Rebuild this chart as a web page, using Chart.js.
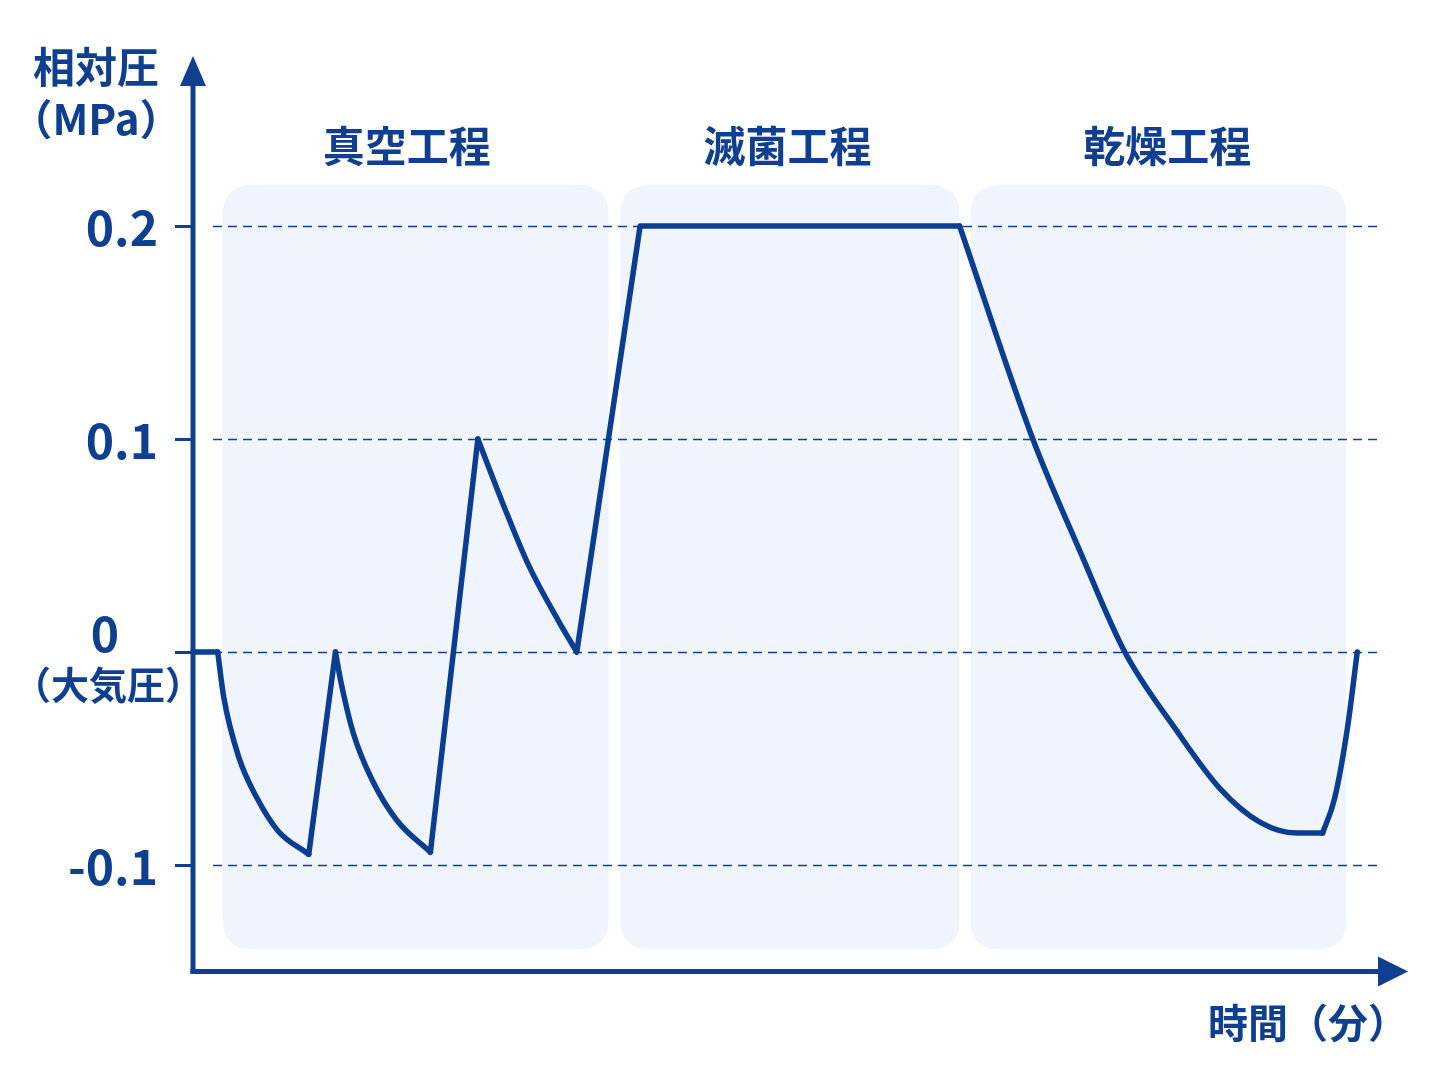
<!DOCTYPE html>
<html>
<head>
<meta charset="utf-8">
<script src="https://cdn.jsdelivr.net/npm/chart.js@4"></script>
<style>
  html, body { margin: 0; padding: 0; background: #fff; }
  #wrap { width: 1448px; height: 1086px; }
</style>
</head>
<body>
<div id="wrap"><canvas id="pressureChart" width="1448" height="1086"></canvas></div>
<script>
// time (min) and relative pressure (MPa)
const times = [0, 2.5, 3.1, 4.6, 6.4, 8.6, 11.7,
  14.4, 15.0, 16.2, 18.1, 20.6, 24.0,
  28.8, 31.3, 33.9, 36.9, 38.8,
  45.2, 77.5,
  84.9, 89.7, 94.2, 99.3, 103.8, 107.9, 111.6, 114.2,
  115.4, 116.7, 117.7];
const pressure = [0, 0, -0.021, -0.049, -0.068, -0.084, -0.095,
  0, -0.015, -0.038, -0.060, -0.079, -0.094,
  0.1, 0.070, 0.041, 0.015, 0,
  0.2, 0.2,
  0.1, 0.047, 0, -0.036, -0.064, -0.080, -0.085, -0.085,
  -0.069, -0.036, 0];

// pieces of the curve: [first index, last index, smooth?]
const pieces = [[0, 1, false], [1, 6, true], [6, 7, false], [7, 12, true],
  [12, 13, false], [13, 17, true], [17, 19, false], [19, 27, true], [27, 30, true]];

const yTicks = [-0.1, 0, 0.1, 0.2];
const yTickLabels = ['-0.1', '0', '0.1', '0.2'];

const phaseNames = ['真空工程', '滅菌工程', '乾燥工程'];
const phaseStart = [3.0, 43.2, 78.6];
const phaseEnd = [42.0, 77.5, 116.6];
const phaseLabelAt = [21.6, 60.1, 98.5];

const NAVY = '#0f3f8e';
const FONT = '"Noto Sans CJK JP", "Noto Sans", sans-serif';

function roundRect(ctx, x, y, w, h, r) {
  ctx.beginPath();
  ctx.moveTo(x + r, y);
  ctx.lineTo(x + w - r, y);
  ctx.quadraticCurveTo(x + w, y, x + w, y + r);
  ctx.lineTo(x + w, y + h - r);
  ctx.quadraticCurveTo(x + w, y + h, x + w - r, y + h);
  ctx.lineTo(x + r, y + h);
  ctx.quadraticCurveTo(x, y + h, x, y + h - r);
  ctx.lineTo(x, y + r);
  ctx.quadraticCurveTo(x, y, x + r, y);
  ctx.closePath();
}

// background boxes, grid, axes and labels
const decorPlugin = {
  id: 'decor',
  beforeDatasetsDraw(chart) {
    const ctx = chart.ctx;
    const xs = chart.scales.x, ys = chart.scales.y;
    const area = chart.chartArea;
    const topY = ys.getPixelForValue(0.2);
    ctx.save();

    // phase boxes + titles
    phaseNames.forEach((name, i) => {
      const x0 = xs.getPixelForValue(phaseStart[i]);
      const x1 = xs.getPixelForValue(phaseEnd[i]);
      const y0 = topY - 41;
      const y1 = area.bottom - 22;
      ctx.fillStyle = '#f0f5fd';
      roundRect(ctx, x0, y0, x1 - x0, y1 - y0, 30);
      ctx.fill();
      ctx.fillStyle = NAVY;
      ctx.font = 'bold 42px ' + FONT;
      ctx.textAlign = 'center';
      ctx.textBaseline = 'middle';
      ctx.fillText(name, xs.getPixelForValue(phaseLabelAt[i]), 146);
    });

    // dashed grid lines + tick marks
    yTicks.forEach(v => {
      const y = Math.round(ys.getPixelForValue(v)) + 0.5;
      ctx.strokeStyle = NAVY;
      ctx.lineWidth = 1.6;
      ctx.setLineDash([9, 6]);
      ctx.beginPath();
      ctx.moveTo(area.left + 20, y);
      ctx.lineTo(area.right, y);
      ctx.stroke();
      ctx.setLineDash([]);
      ctx.lineWidth = 3;
      ctx.beginPath();
      ctx.moveTo(area.left - 18, y);
      ctx.lineTo(area.left, y);
      ctx.stroke();
    });
    ctx.restore();
  },
  afterDatasetsDraw(chart) {
    const ctx = chart.ctx;
    const ys = chart.scales.y;
    const area = chart.chartArea;
    ctx.save();
    ctx.strokeStyle = NAVY;
    ctx.fillStyle = NAVY;
    ctx.lineWidth = 5;

    // y axis with arrow
    ctx.beginPath();
    ctx.moveTo(area.left, area.bottom + 2.5);
    ctx.lineTo(area.left, 80);
    ctx.stroke();
    ctx.beginPath();
    ctx.moveTo(area.left, 56);
    ctx.lineTo(area.left - 13, 86);
    ctx.lineTo(area.left + 13, 86);
    ctx.closePath();
    ctx.fill();

    // x axis with arrow
    ctx.beginPath();
    ctx.moveTo(area.left - 2.5, area.bottom);
    ctx.lineTo(1385, area.bottom);
    ctx.stroke();
    ctx.beginPath();
    ctx.moveTo(1408, area.bottom);
    ctx.lineTo(1378, area.bottom - 15);
    ctx.lineTo(1378, area.bottom + 15);
    ctx.closePath();
    ctx.fill();

    // tick labels
    ctx.textBaseline = 'middle';
    yTicks.forEach((v, i) => {
      const y = ys.getPixelForValue(v);
      ctx.font = 'bold 48px ' + FONT;
      if (v === 0) {
        ctx.textAlign = 'center';
        ctx.fillText(yTickLabels[i], 105, y - 18);
        ctx.font = 'bold 38px ' + FONT;
        ctx.fillText('（大気圧）', 108, y + 33);
      } else {
        ctx.textAlign = 'right';
        ctx.fillText(yTickLabels[i], 158, y + 2);
      }
    });

    // axis titles
    ctx.font = 'bold 42px ' + FONT;
    ctx.textAlign = 'center';
    ctx.fillText('相対圧', 96, 67);
    ctx.fillText('（MPa）', 96, 119);
    ctx.font = 'bold 40px ' + FONT;
    ctx.fillText('時間（分）', 1308, 1023);
    ctx.restore();
  }
};

const lineDatasets = pieces.map(([a, b, smooth]) => ({
  data: times.slice(a, b + 1).map((t, k) => ({ x: t, y: pressure[a + k] })),
  borderColor: '#0b3d91',
  borderWidth: 5.5,
  borderJoinStyle: 'round',
  borderCapStyle: 'round',
  pointRadius: 0,
  tension: smooth ? 0.4 : 0,
  cubicInterpolationMode: smooth ? 'monotone' : 'default',
  fill: false
}));

const ctx = document.getElementById('pressureChart').getContext('2d');
const pressureChart = new Chart(ctx, {
  type: 'line',
  data: { datasets: lineDatasets },
  options: {
    responsive: false,
    animation: false,
    clip: false,
    layout: {
      padding: { left: 193, right: 68, top: 119.5, bottom: 114.5 }
    },
    plugins: {
      legend: { display: false },
      tooltip: { enabled: false }
    },
    scales: {
      x: { type: 'linear', min: 0, max: 120, display: false },
      y: { type: 'linear', min: -0.15, max: 0.25, display: false }
    }
  },
  plugins: [decorPlugin]
});
</script>
</body>
</html>
